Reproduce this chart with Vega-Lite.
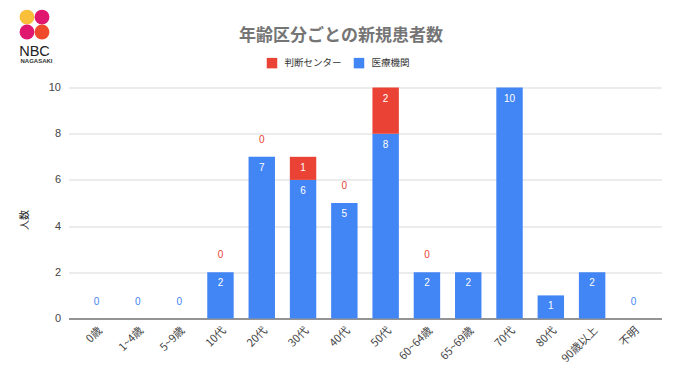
{
"$schema":"https://vega.github.io/schema/vega-lite/v6.json",
"width":593,"height":231,
"autosize":{"type":"none"},
"padding":{"left":68.5,"top":87.5,"right":18,"bottom":63},
"background":"white",
"config":{"font":"Noto Sans CJK JP","view":{"stroke":null}},
"title":{"text":"年齢区分ごとの新規患者数","fontSize":17,"fontWeight":"bold","color":"#757575","anchor":"middle","dx":-24,"offset":-35,"font":"Noto Sans CJK JP"},
"datasets":{
"main":[
{"age":"0歳","source":"医療機関","count":0},
{"age":"1~4歳","source":"医療機関","count":0},
{"age":"5~9歳","source":"医療機関","count":0},
{"age":"10代","source":"医療機関","count":2},
{"age":"10代","source":"判断センター","count":0},
{"age":"20代","source":"医療機関","count":7},
{"age":"20代","source":"判断センター","count":0},
{"age":"30代","source":"医療機関","count":6},
{"age":"30代","source":"判断センター","count":1},
{"age":"40代","source":"医療機関","count":5},
{"age":"40代","source":"判断センター","count":0},
{"age":"50代","source":"医療機関","count":8},
{"age":"50代","source":"判断センター","count":2},
{"age":"60~64歳","source":"医療機関","count":2},
{"age":"60~64歳","source":"判断センター","count":0},
{"age":"65~69歳","source":"医療機関","count":2},
{"age":"70代","source":"医療機関","count":10},
{"age":"80代","source":"医療機関","count":1},
{"age":"90歳以上","source":"医療機関","count":2},
{"age":"不明","source":"医療機関","count":0}
],
"logo":[{"part":"a"},{"part":"b"},{"part":"c"},{"part":"d"}]
},
"layer":[
{"data":{"name":"main"},
 "mark":{"type":"bar"},
 "encoding":{
  "x":{"field":"age","type":"nominal","sort":["0歳","1~4歳","5~9歳","10代","20代","30代","40代","50代","60~64歳","65~69歳","70代","80代","90歳以上","不明"],
   "scale":{"paddingInner":0.36,"paddingOuter":0.36},
   "axis":{"title":"NAGASAKI","titleX":-32.5,"titleY":-261,"titleFontSize":6,"titleFontWeight":"bold","titleColor":"#333","titleFont":"Liberation Sans","titleAnchor":"middle","labelAngle":-45,"labelAlign":"right","labelBaseline":"middle","labelFontSize":11,"labelColor":"#444","labelPadding":10,"labelOffset":4,"ticks":false,"domainColor":"#777","domainWidth":1.5,"grid":false}},
  "y":{"field":"count","type":"quantitative","stack":"zero","scale":{"domain":[0,10],"nice":false},
   "axis":{"title":"人数","titleX":-39,"titleY":132,"titleFontSize":10,"titleFontWeight":"normal","titleColor":"#222","values":[0,2,4,6,8,10],"labelFontSize":11,"labelColor":"#444","labelPadding":8,"labelFont":"Liberation Sans","ticks":false,"domain":false,"grid":true,"gridColor":"#d9d9d9","gridWidth":1}},
  "fill":{"field":"source","type":"nominal","scale":{"domain":["判断センター","医療機関"],"range":["#ea4335","#4285f4"]},
   "legend":{"title":null,"orient":"none","direction":"horizontal","legendX":198,"legendY":-30,"symbolType":"square","symbolSize":110,"symbolStrokeWidth":0,"labelFontSize":9.5,"labelColor":"#333","labelOffset":7,"columnPadding":11}},
  "order":{"field":"source","sort":"descending"}
 }},
{"data":{"name":"main"},
 "transform":[{"stack":"count","groupby":["age"],"sort":[{"field":"source","order":"descending"}],"as":["low","high"]},{"filter":"datum.count > 0"}],
 "mark":{"type":"text","dy":11,"fontSize":10,"color":"#ffffff","baseline":"middle","font":"Liberation Sans"},
 "encoding":{
  "x":{"field":"age","type":"nominal","sort":["0歳","1~4歳","5~9歳","10代","20代","30代","40代","50代","60~64歳","65~69歳","70代","80代","90歳以上","不明"]},
  "y":{"field":"high","type":"quantitative","title":"人数"},
  "text":{"field":"count","type":"quantitative"}
 }},
{"data":{"name":"main"},
 "transform":[{"stack":"count","groupby":["age"],"sort":[{"field":"source","order":"descending"}],"as":["low","high"]},{"filter":"datum.count == 0"}],
 "mark":{"type":"text","dy":-17,"fontSize":10,"baseline":"middle","font":"Liberation Sans"},
 "encoding":{
  "x":{"field":"age","type":"nominal","sort":["0歳","1~4歳","5~9歳","10代","20代","30代","40代","50代","60~64歳","65~69歳","70代","80代","90歳以上","不明"]},
  "y":{"field":"high","type":"quantitative","title":"人数"},
  "color":{"field":"source","type":"nominal","legend":null,"scale":{"domain":["判断センター","医療機関"],"range":["#ea4335","#4285f4"]}},
  "text":{"field":"count","type":"quantitative"}
 }},
{"data":{"name":"logo"},
 "mark":{"type":"point","filled":true,"opacity":0},
 "encoding":{
  "fill":{"field":"part","type":"nominal","scale":{"domain":["a","b","c","d"],"range":["#f9bf3b","#e0176f","#e0176f","#ee4a2b"]},
   "legend":{"title":"NBC","titleOrient":"bottom","titleFontSize":14.5,"titleFont":"Liberation Sans","titleFontWeight":"normal","titleColor":"#222","titleAnchor":"middle","titlePadding":5,"orient":"none","legendX":-49,"legendY":-78,"columns":2,"symbolType":"circle","symbolSize":220,"symbolOpacity":1,"symbolStrokeWidth":0,"labelExpr":"''","labelOffset":0,"labelFontSize":1,"columnPadding":0,"rowPadding":0,"padding":0}}
 }}
],
"resolve":{"scale":{"fill":"independent"}}
}
